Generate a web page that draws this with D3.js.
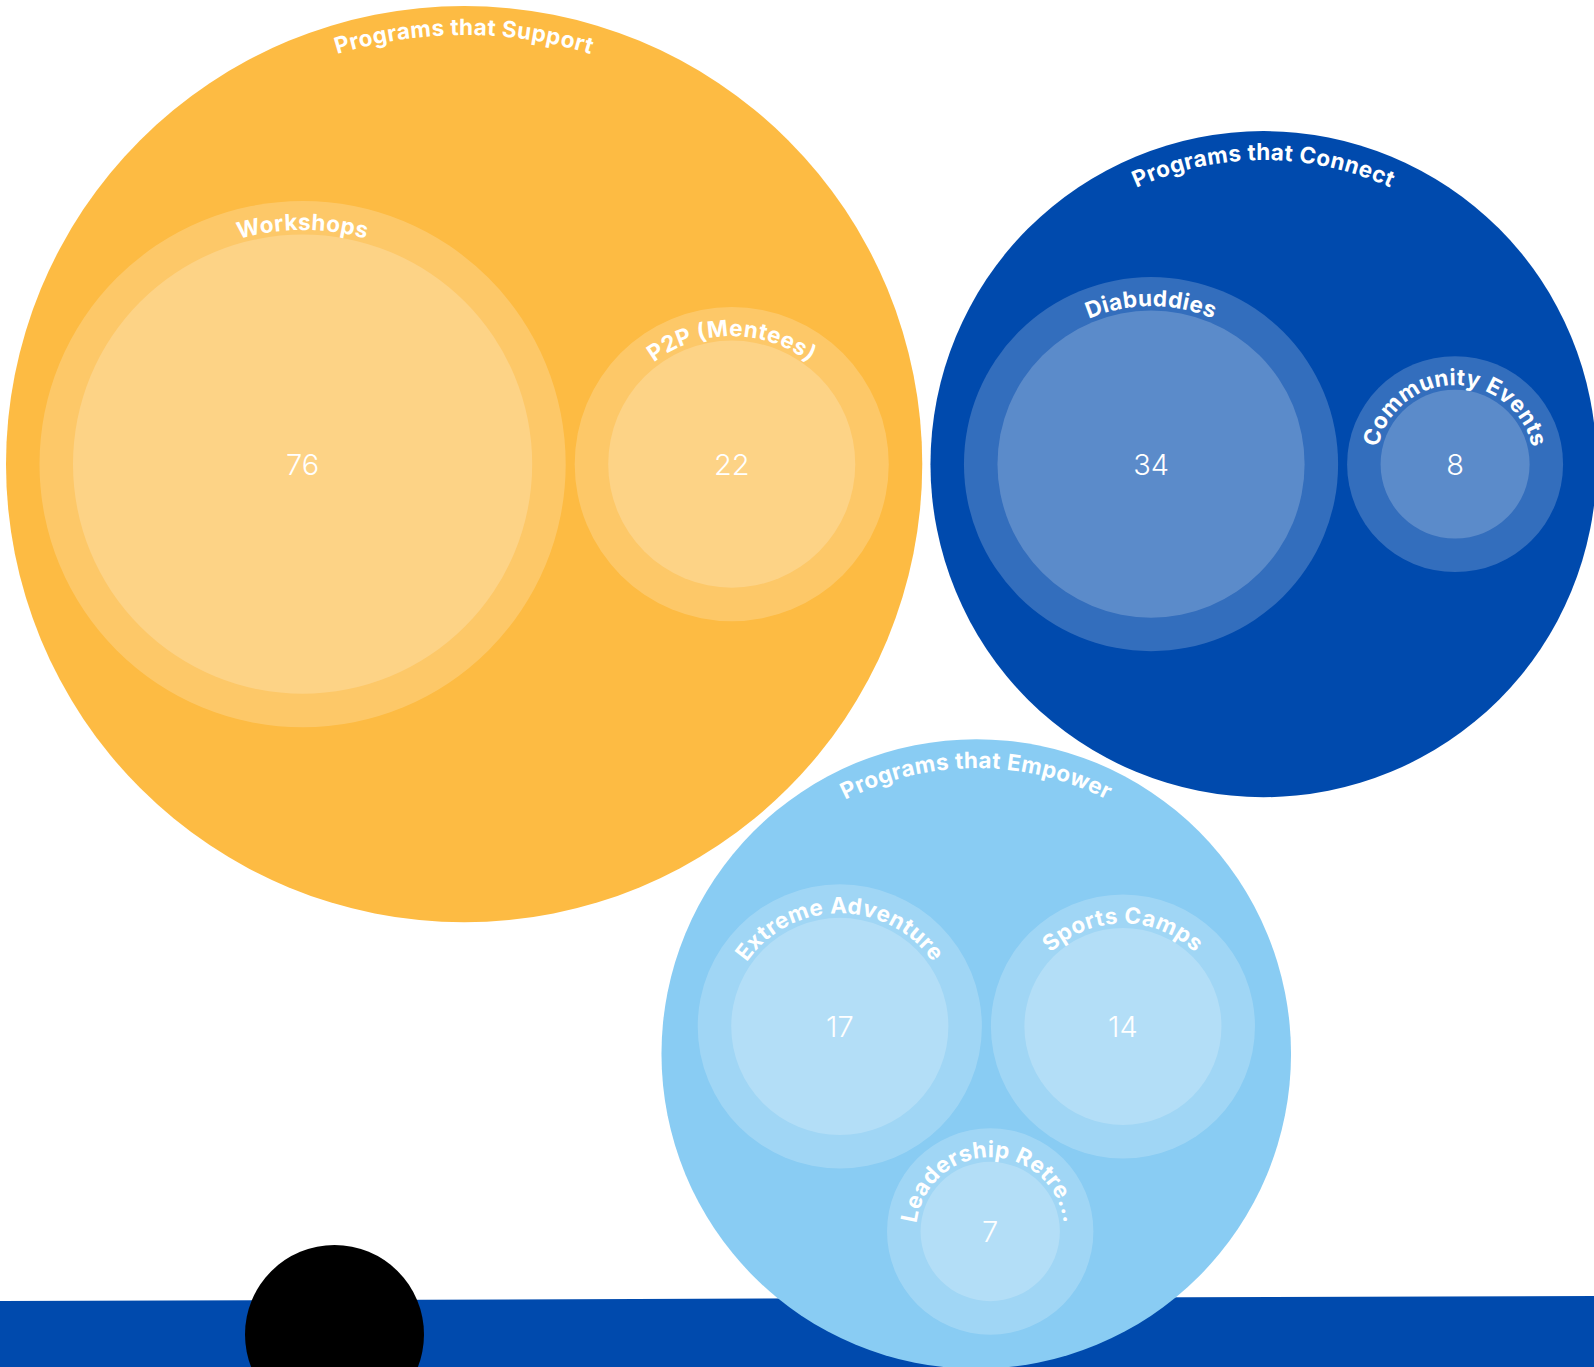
<!DOCTYPE html>
<html>
<head>
<meta charset="utf-8">
<script src="https://cdn.jsdelivr.net/npm/d3@7"></script>
<style>
  html, body { margin: 0; padding: 0; background: #ffffff; overflow: hidden; }
  svg { display: block; }
</style>
</head>
<body>
<svg id="chart"></svg>
<script>
// ---- data ----
const groups = ["Programs that Support", "Programs that Connect", "Programs that Empower"];
const groupColors = ["#FDBB43", "#004AAD", "#89CCF3"];
const programs = ["Workshops", "P2P (Mentees)", "Diabuddies", "Community Events", "Extreme Adventure", "Sports Camps", "Leadership Retreats"];
const programGroup = [0, 0, 1, 1, 2, 2, 2];
const values = [76, 22, 34, 8, 17, 14, 7];

// ---- setup ----
const W = 1594, H = 1367;
const svg = d3.select("#chart").attr("width", W).attr("height", H);

const rScale = d3.scaleSqrt().domain([0, d3.max(values)]).range([0, 229.6]);
const ring = 33.5;        // ring width of each program / group
const siblingGap = 9;     // gap between programs
const groupGap = 8.2;     // gap between groups
const labelInset = 29;    // baseline distance below circle edge

// programs layout within groups
const groupNodes = groups.map((g, gi) => {
  const kids = programs.map((p, i) => ({ name: p, value: values[i], gi: programGroup[i] }))
    .filter(d => d.gi === gi)
    .map(d => {
      d.inner = rScale(d.value);
      d.outer = d.inner + ring;
      d.r = d.outer + siblingGap / 2;
      return d;
    });
  d3.packSiblings(kids);
  const enc = d3.packEnclose(kids);
  kids.forEach(k => { k.x -= enc.x; k.y -= enc.y; });
  return { name: g, color: groupColors[gi], kids, radius: enc.r - siblingGap / 2 + ring };
});

groupNodes.forEach(g => g.r = g.radius + groupGap / 2);
d3.packSiblings(groupNodes);
const margin = 6;
const minX = d3.min(groupNodes, g => g.x - g.radius);
const minY = d3.min(groupNodes, g => g.y - g.radius);
const ox = margin - minX, oy = margin - minY;

// ---- decorative bottom band & dot ----
svg.append("path")
  .attr("d", `M0,${H - 66} L${W},${H - 71} L${W},${H} L0,${H} Z`)
  .attr("fill", "#004AAD");
svg.append("circle")
  .attr("cx", 334.5).attr("cy", H - 32.5).attr("r", 89.5)
  .attr("fill", "#000000");

// ---- arc path helper: full circle starting at bottom, clockwise ----
function circlePath(R) {
  return `M0,${R} A${R},${R} 0 1,1 0,${-R} A${R},${R} 0 1,1 0,${R}`;
}

const labelFont = "'Inter', 'Open Sans', sans-serif";
let pid = 0;

function arcLabel(sel, R, text, maxAngle) {
  const id = "arc" + (pid++);
  sel.append("path").attr("id", id).attr("d", circlePath(R)).attr("fill", "none");
  const t = sel.append("text")
    .attr("font-family", labelFont)
    .attr("font-weight", 700)
    .attr("font-size", 22.5)
    .attr("letter-spacing", 0.4)
    .attr("fill", "#ffffff");
  const tp = t.append("textPath")
    .attr("href", "#" + id)
    .attr("startOffset", "50%")
    .attr("text-anchor", "middle")
    .text(text);
  const maxLen = maxAngle * R;
  let s = text;
  while (tp.node().getComputedTextLength() > maxLen && s.length > 1) {
    s = s.slice(0, -1);
    tp.text(s.trimEnd() + "...");
  }
}

const gSel = svg.selectAll("g.group").data(groupNodes).join("g")
  .attr("class", "group")
  .attr("transform", d => `translate(${d.x + ox},${d.y + oy})`);

gSel.append("circle").attr("r", d => d.radius).attr("fill", d => d.color);
gSel.each(function(d) { arcLabel(d3.select(this), d.radius - labelInset, d.name, Math.PI); });

const pSel = gSel.selectAll("g.prog").data(d => d.kids).join("g")
  .attr("class", "prog")
  .attr("transform", d => `translate(${d.x},${d.y})`);

pSel.append("circle").attr("r", d => d.outer).attr("fill", "#ffffff").attr("fill-opacity", 0.2);
pSel.append("circle").attr("r", d => d.inner).attr("fill", "#ffffff").attr("fill-opacity", 0.2);
pSel.each(function(d) { arcLabel(d3.select(this), d.outer - labelInset, d.name, 3.05); });
pSel.append("text")
  .attr("text-anchor", "middle")
  .attr("dominant-baseline", "central")
  .attr("font-family", labelFont)
  .attr("font-weight", 300)
  .attr("font-size", 29)
  .attr("fill", "#ffffff")
  .text(d => d.value);
</script>
</body>
</html>
